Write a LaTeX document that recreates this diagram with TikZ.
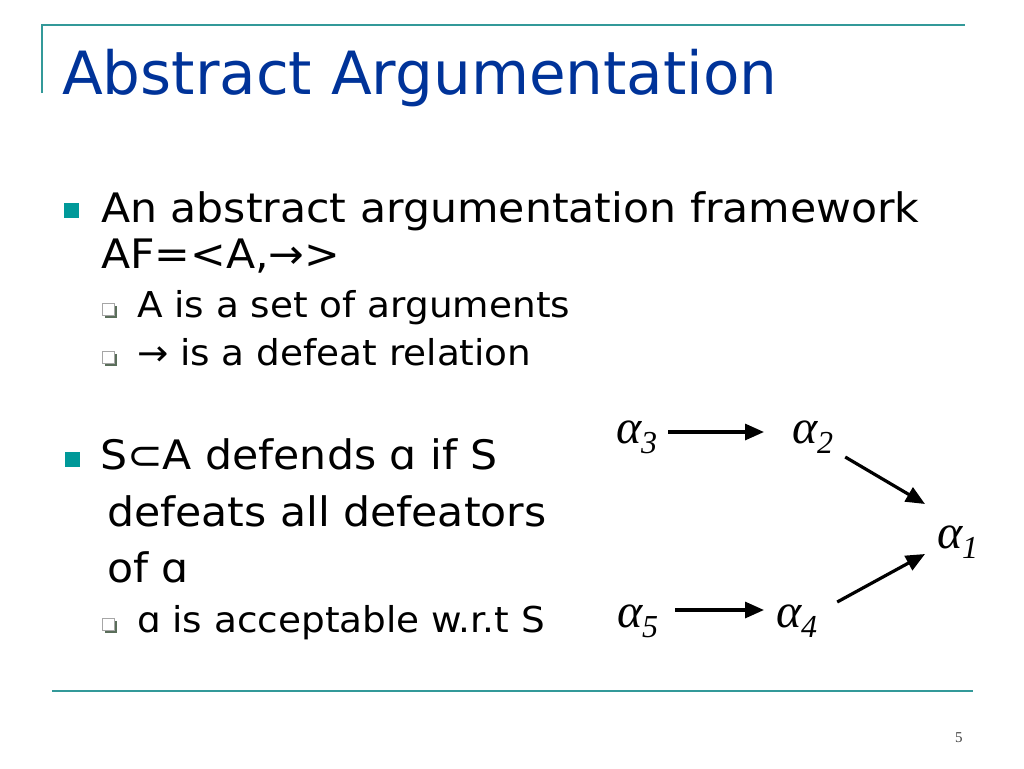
\documentclass[tikz,border=0pt]{standalone}
\usepackage{fontspec}
\setmainfont{DejaVu Sans}[FakeStretch=1.05]
\newfontfamily\titlefont{DejaVu Sans}
\newfontfamily\tnr{Liberation Serif}
\usetikzlibrary{arrows.meta}
\definecolor{titleblue}{RGB}{0,51,153}
\definecolor{tealline}{RGB}{51,153,153}
\definecolor{tealbul}{RGB}{0,153,153}
\definecolor{boxshadow}{RGB}{90,110,90}
\newcommand{\myalpha}[1]{{\tnr\itshape\fontsize{48}{48}\selectfont α\raisebox{-10pt}{\fontsize{32}{32}\selectfont #1}}}
\tikzset{
  txt/.style={anchor=base west, inner sep=0pt, outer sep=0pt},
  titletxt/.style={txt, text=titleblue, font=\titlefont\fontsize{59.6}{60}\selectfont},
  maintxt/.style={txt, font=\fontsize{40.6}{41}\selectfont},
  subtxt/.style={txt, font=\fontsize{35.6}{36}\selectfont},
  greek/.style={anchor=base west, inner sep=0pt, outer sep=0pt},
  defeat/.style={-{Triangle[length=19pt,width=16pt]}, line width=3.2pt},
  rule/.style={draw=tealline, line width=2.4pt},
}
\newcommand{\mainbullet}[2]{\fill[tealbul] (#1,#2) rectangle ++(15,15);}
\newcommand{\subbullet}[2]{%
  \fill[boxshadow] (#1+2.5,#2+2.5) rectangle ++(12.5,12.5);
  \filldraw[fill=white, draw=gray!70, line width=0.6pt] (#1,#2) rectangle ++(12.5,12.5);}
\begin{document}
\begin{tikzpicture}[x=1pt, y=-1pt]
\useasboundingbox (0,0) rectangle (1024,768);
% rules
\draw[rule] (42,93) -- (42,25) -- (965,25);
\draw[rule] (52,691) -- (973,691);
% title
\node[titletxt] (title) at (62,94) {Abstract Argumentation};
% bullet 1
\mainbullet{64}{203}
\node[maintxt] (b1a) at (101,222) {An abstract argumentation framework};
\node[maintxt] (b1b) at (101,268) {AF=<A,→>};
\subbullet{102}{303}
\node[subtxt] (s1) at (137,317) {A is a set of arguments};
\subbullet{102}{351}
\node[subtxt] (s2) at (137,365) {→ is a defeat relation};
% bullet 2
\mainbullet{65}{452}
\node[maintxt] (b2a) at (100,469) {S⊂A defends ɑ if S};
\node[maintxt] (b2b) at (107,526) {defeats all defeators};
\node[maintxt] (b2c) at (107,582) {of ɑ};
\subbullet{102}{618}
\node[subtxt] (s3) at (137,632) {ɑ is acceptable w.r.t S};
% page number
\node[txt, font=\tnr\fontsize{15}{15}\selectfont, text=black!75] (pg) at (955,742) {5};
% graph
\node[greek] (a3) at (616,443) {\myalpha{3}};
\node[greek] (a2) at (792,443) {\myalpha{2}};
\node[greek] (a1) at (937,548) {\myalpha{1}};
\node[greek] (a5) at (617,627) {\myalpha{5}};
\node[greek] (a4) at (776,627) {\myalpha{4}};
\draw[defeat] ([xshift=11pt,yshift=11pt]a3.base east) -- ([xshift=-28pt,yshift=11pt]a2.base west);
\draw[defeat] ([xshift=12pt,yshift=-14pt]a2.base east) -- ([xshift=-12pt,yshift=44pt]a1.base west);
\draw[defeat] ([xshift=20pt,yshift=25pt]a4.base east) -- ([xshift=-12pt,yshift=-6pt]a1.base west);
\draw[defeat] ([xshift=17pt,yshift=17pt]a5.base east) -- ([xshift=-12pt,yshift=17pt]a4.base west);
\end{tikzpicture}
\end{document}
